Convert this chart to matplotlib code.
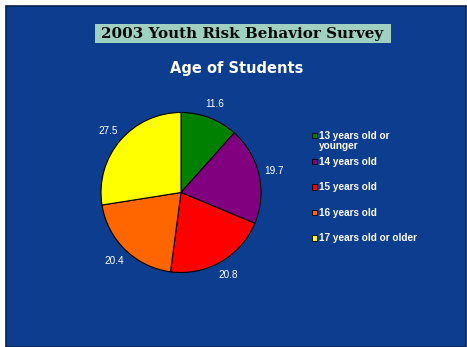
import matplotlib
matplotlib.use("Agg")
import matplotlib.pyplot as plt
from matplotlib.patches import Rectangle

# Survey data: share of students by age group (percent)
age_groups = ["13 years old or\nyounger", "14 years old", "15 years old",
              "16 years old", "17 years old or older"]
shares = [11.6, 19.7, 20.8, 20.4, 27.5]
slice_colors = ["#008000", "#800080", "#ff0000", "#ff6600", "#ffff00"]

panel_blue = "#0c3d8f"

W, H, DPI = 467, 347, 100
fig = plt.figure(figsize=(W / DPI, H / DPI), dpi=DPI)
fig.patch.set_facecolor("white")

# Slide background panel
bg = fig.add_axes([0, 0, 1, 1])
bg.set_xlim(0, W)
bg.set_ylim(H, 0)
bg.axis("off")
bg.add_patch(Rectangle((6, 6), 460, 341, facecolor=panel_blue,
                       edgecolor="#0a1f4a", linewidth=1.2))

# Banner title
bg.add_patch(Rectangle((95, 23.5), 295.5, 19.5, facecolor="#9fd0c0",
                       edgecolor="none"))
bg.text(242, 33.5, "2003 Youth Risk Behavior Survey", ha="center",
        va="center", fontsize=10.9, fontweight="bold", family="DejaVu Serif",
        color="#0a0a0a")

# Chart title
bg.text(237, 68, "Age of Students", ha="center", va="center", fontsize=10.5,
        fontweight="bold", family="DejaVu Sans", color="white")

# Pie chart
cx, cy, r = 181, 192.5, 80
pie_ax = fig.add_axes([(cx - r) / W, 1 - (cy + r) / H, 2 * r / W, 2 * r / H])
pie_ax.set_facecolor("none")
wedges, texts = pie_ax.pie(
    shares, colors=slice_colors, startangle=90, counterclock=False,
    labels=[f"{v:.1f}" for v in shares], labeldistance=1.19,
    wedgeprops=dict(edgecolor="black", linewidth=0.8),
    textprops=dict(color="white", fontsize=7.2, family="Liberation Sans"),
)
pie_ax.set_xlim(-1.0, 1.0)
pie_ax.set_ylim(-1.0, 1.0)
pie_ax.set_aspect("equal")
for t in texts:
    t.set_clip_on(False)
    t.set_ha("center")
    t.set_va("center")

# Legend
legend_rows_y = [135.5, 161.5, 187, 212.5, 238]
for label, color, y in zip(age_groups, slice_colors, legend_rows_y):
    bg.add_patch(Rectangle((311.5, y - 3), 5.5, 5.5, facecolor=color,
                           edgecolor="black", linewidth=0.6))
    bg.text(319, y - 4.8, label, ha="left", va="top", fontsize=7.2,
            fontweight="bold", family="Liberation Sans", color="white",
            linespacing=1.0)

fig.savefig("out.png", dpi=DPI, facecolor=fig.get_facecolor())
